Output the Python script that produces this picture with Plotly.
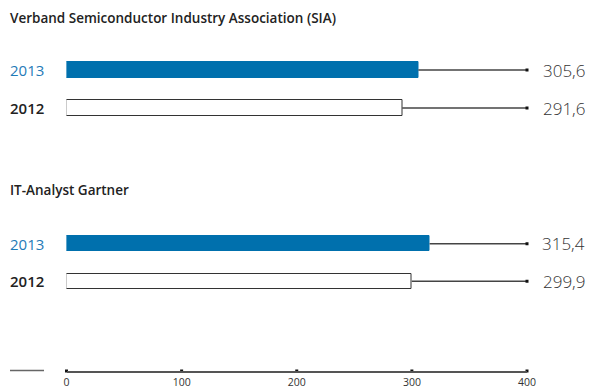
import plotly.graph_objects as go

W, H = 596, 391

# ---- data ----
groups = ["Verband Semiconductor Industry Association (SIA)", "IT-Analyst Gartner"]
years = ["2013", "2012"]
sia_values = [305.6, 291.6]
gartner_values = [315.4, 299.9]
axis_ticks = [0, 100, 200, 300, 400]
axis_max = 400

BLUE = "#0070ad"
BLUE_TXT = "#1f7bb8"
DARK = "#222222"
LINE = "#444444"
FONT = "Open Sans"


def py(px):
    return 1 - px / H


def px_x(px):
    return px / W


x_dom = [px_x(66.5), px_x(527)]
dom1 = [py(127), py(51)]
dom2 = [py(300), py(225)]
dom3 = [py(371), py(361)]

fig = go.Figure()

all_values = [sia_values, gartner_values]
axes = [("x", "y"), ("x2", "y2")]

annotations = []
for gi, (vals, (xa, ya)) in enumerate(zip(all_values, axes)):
    fig.add_trace(go.Bar(
        x=vals, y=years, orientation="h", xaxis=xa, yaxis=ya,
        width=0.4,
        marker=dict(color=[BLUE, "white"], line=dict(color=[BLUE, "#333333"], width=1)),
        showlegend=False, hoverinfo="skip",
    ))
    for i, (v, yr) in enumerate(zip(vals, years)):
        fig.add_trace(go.Scatter(
            x=[v, axis_max], y=[yr, yr], xaxis=xa, yaxis=ya, mode="lines",
            line=dict(color=LINE, width=1.5), showlegend=False, hoverinfo="skip",
        ))
        fig.add_trace(go.Scatter(
            x=[axis_max], y=[yr], xaxis=xa, yaxis=ya, mode="markers",
            marker=dict(symbol="square", size=3, color="#111111"),
            showlegend=False, hoverinfo="skip", cliponaxis=False,
        ))
        annotations.append(dict(
            x=px_x(587), xref="paper", y=i, yref=ya, xanchor="right", yanchor="middle",
            text=f"{v:.1f}".replace(".", ","), showarrow=False,
            font=dict(family=FONT, size=17, color="#333333", weight=300),
        ))
        annotations.append(dict(
            x=px_x(8), xref="paper", y=i, yref=ya, xanchor="left", yanchor="middle",
            text=yr, showarrow=False,
            font=dict(family=FONT, size=15, color=BLUE_TXT if yr == "2013" else DARK,
                      weight=500 if yr == "2013" else 600),
        ))

for title, ypx in zip(groups, [18, 190]):
    annotations.append(dict(
        x=px_x(8), xref="paper", y=py(ypx), yref="paper", xanchor="left", yanchor="middle",
        text=title, showarrow=False,
        font=dict(family=FONT, size=13.5, color=DARK, weight=600),
    ))

# bottom axis tick dots
fig.add_trace(go.Scatter(
    x=axis_ticks, y=[0] * len(axis_ticks), xaxis="x3", yaxis="y3", mode="markers",
    marker=dict(symbol="square", size=3, color="#111111"),
    showlegend=False, hoverinfo="skip", cliponaxis=False,
))

hidden_x = dict(domain=x_dom, range=[0, axis_max], visible=False, fixedrange=True,
                automargin=False)
cat_y = dict(type="category", categoryorder="array", categoryarray=years,
             range=[1.5, -0.5], visible=False, fixedrange=True, automargin=False)

fig.update_layout(
    template="none",
    width=W, height=H,
    margin=dict(l=0, r=0, t=0, b=0, autoexpand=False),
    paper_bgcolor="white", plot_bgcolor="rgba(0,0,0,0)",
    bargap=0,
    xaxis=dict(hidden_x, anchor="y"),
    yaxis=dict(cat_y, domain=dom1, anchor="x"),
    xaxis2=dict(hidden_x, anchor="y2"),
    yaxis2=dict(cat_y, domain=dom2, anchor="x2"),
    xaxis3=dict(domain=x_dom, range=[0, axis_max], anchor="y3", showline=True,
                linecolor="#555555", linewidth=1.5, showgrid=False, zeroline=False,
                tickvals=axis_ticks, ticks="", ticklabelstandoff=1, automargin=False,
                tickfont=dict(family=FONT, size=10.5, color="#333333"), fixedrange=True),
    yaxis3=dict(domain=dom3, range=[0, 1], visible=False, fixedrange=True, anchor="x3",
                automargin=False),
    annotations=annotations,
    shapes=[dict(type="line", xref="paper", yref="paper", x0=px_x(10), x1=px_x(44),
                 y0=py(370.5), y1=py(370.5), line=dict(color="#666666", width=1.5))],
)

fig.write_html("out.html", config={"displayModeBar": False})
